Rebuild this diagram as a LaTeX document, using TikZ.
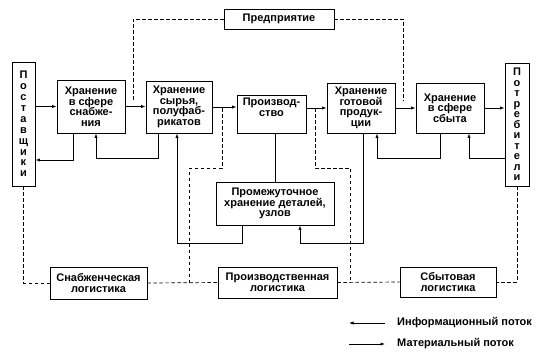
\documentclass[tikz,border=0pt]{standalone}
\usepackage{fontspec}
\setmainfont{Liberation Sans}
\usetikzlibrary{arrows.meta,calc}
\tikzset{
  box/.style={draw,line width=0.8pt,align=center,inner sep=1pt,font=\fontsize{11}{10.5}\selectfont\bfseries},
  flow/.style={-{Latex[length=4.5pt,width=3.2pt]},line width=0.7pt},
  link/.style={line width=0.7pt},
  org/.style={dash pattern=on 3.5pt off 2.5pt,line width=0.7pt},
  legend/.style={inner sep=0pt,font=\fontsize{11}{10.5}\selectfont\bfseries},
}
\begin{document}
\begin{tikzpicture}[x=1pt,y=-1pt]
  \useasboundingbox (0,0) rectangle (537,356);
  % main chain
  \node[box,minimum width=23,minimum height=124,font=\fontsize{11}{10.9}\selectfont\bfseries] (post) at (23.5,124) {П\\о\\с\\т\\а\\в\\щ\\и\\к\\и};
  \node[box,minimum width=68,minimum height=53] (snab) at (91,106.5) {Хранение\\в сфере\\снабже-\\ния};
  \node[box,minimum width=66,minimum height=52] (syr) at (179,107) {Хранение\\сырья,\\полуфаб-\\рикатов};
  \node[box,minimum width=69,minimum height=38] (proizv) at (271.5,114) {Производ-\\ство\\\strut};
  \node[box,minimum width=68,minimum height=50] (gotov) at (361,108) {Хранение\\готовой\\продук-\\ции};
  \node[box,minimum width=68,minimum height=50] (sbyt) at (450,108) {Хранение\\в сфере\\сбыта};
  \node[box,minimum width=24,minimum height=123] (potr) at (517,124.5) {П\\о\\т\\р\\е\\б\\и\\т\\е\\л\\и};
  \node[box,minimum width=110,minimum height=20] (pred) at (279,19) {Предприятие};
  \node[box,minimum width=118,minimum height=43] (prom) at (275,203.5) {Промежуточное\\хранение деталей,\\узлов};
  % logistics
  \node[box,minimum width=97,minimum height=32] (lsnab) at (98.5,283) {Снабженческая\\логистика};
  \node[box,minimum width=119,minimum height=31] (lproizv) at (277.5,282.5) {Производственная\\логистика};
  \node[box,minimum width=96,minimum height=30] (lsbyt) at (448,282) {Сбытовая\\логистика};
  % junctions on the material line
  \coordinate (jsnab) at (133,101);
  \coordinate (jsbyt) at (403,101);
  \coordinate (jsyr) at (222,108);
  \coordinate (jgot) at (315,108);
  % material flow
  \draw[flow] (post.east |- snab.west) -- (snab.west);
  \draw[flow] (snab.east) -- (snab.east -| syr.west);
  \draw[flow] (syr.east) -- (syr.east -| proizv.west);
  \draw[flow] (gotov.west -| proizv.east) -- (gotov.west);
  \draw[flow] (gotov.east) -- (sbyt.west);
  \draw[flow] (sbyt.east) -- (sbyt.east -| potr.west);
  \draw[link] (prom.north |- proizv.south) -- (prom.north);
  % information flow
  \draw[flow] ([xshift=-18pt]snab.south) |- ([yshift=-36pt]post.east);
  \draw[flow] ([xshift=-21pt]syr.south) -- ++(0,25) -| ([xshift=5pt]snab.south);
  \draw[flow] ([xshift=-33pt]prom.south) -- ++(0,18) -| ([xshift=-2pt]syr.south);
  \draw[flow] ([xshift=2pt]gotov.south) -- ++(0,110) -| ([xshift=25pt]prom.south);
  \draw[flow] ([xshift=-10pt]sbyt.south) -- ++(0,25) -| ([xshift=16pt]gotov.south);
  \draw[flow] ([yshift=-34pt]potr.west) -| ([xshift=19pt]sbyt.south);
  % organisation links
  \draw[org] (pred.west) -| (jsnab);
  \draw[org] (pred.east) -| (jsbyt);
  \draw[org] (jsyr) -- ++(0,60) -| ($(lsnab.east)!0.6!(lproizv.west)$);
  \draw[org] (jgot) -- ++(0,60) -| ($(lproizv.east)!0.21!(lsbyt.west)$);
  \draw[org] (post.south) |- (lsnab.west);
  \draw[org] (potr.south) |- (lsbyt.east);
  \draw[org] (lsnab.east) -- (lproizv.west);
  \draw[org] (lproizv.east) -- (lsbyt.west);
  % legend
  \node[legend,anchor=west] (info) at (397,323) {Информационный поток};
  \node[legend,anchor=west] (mat) at (397,344) {Материальный поток};
  \draw[flow] ([xshift=-12pt]info.west) -- ++(-36,0);
  \draw[flow] ([xshift=-48pt]mat.west) -- ++(36,0);
\end{tikzpicture}
\end{document}
